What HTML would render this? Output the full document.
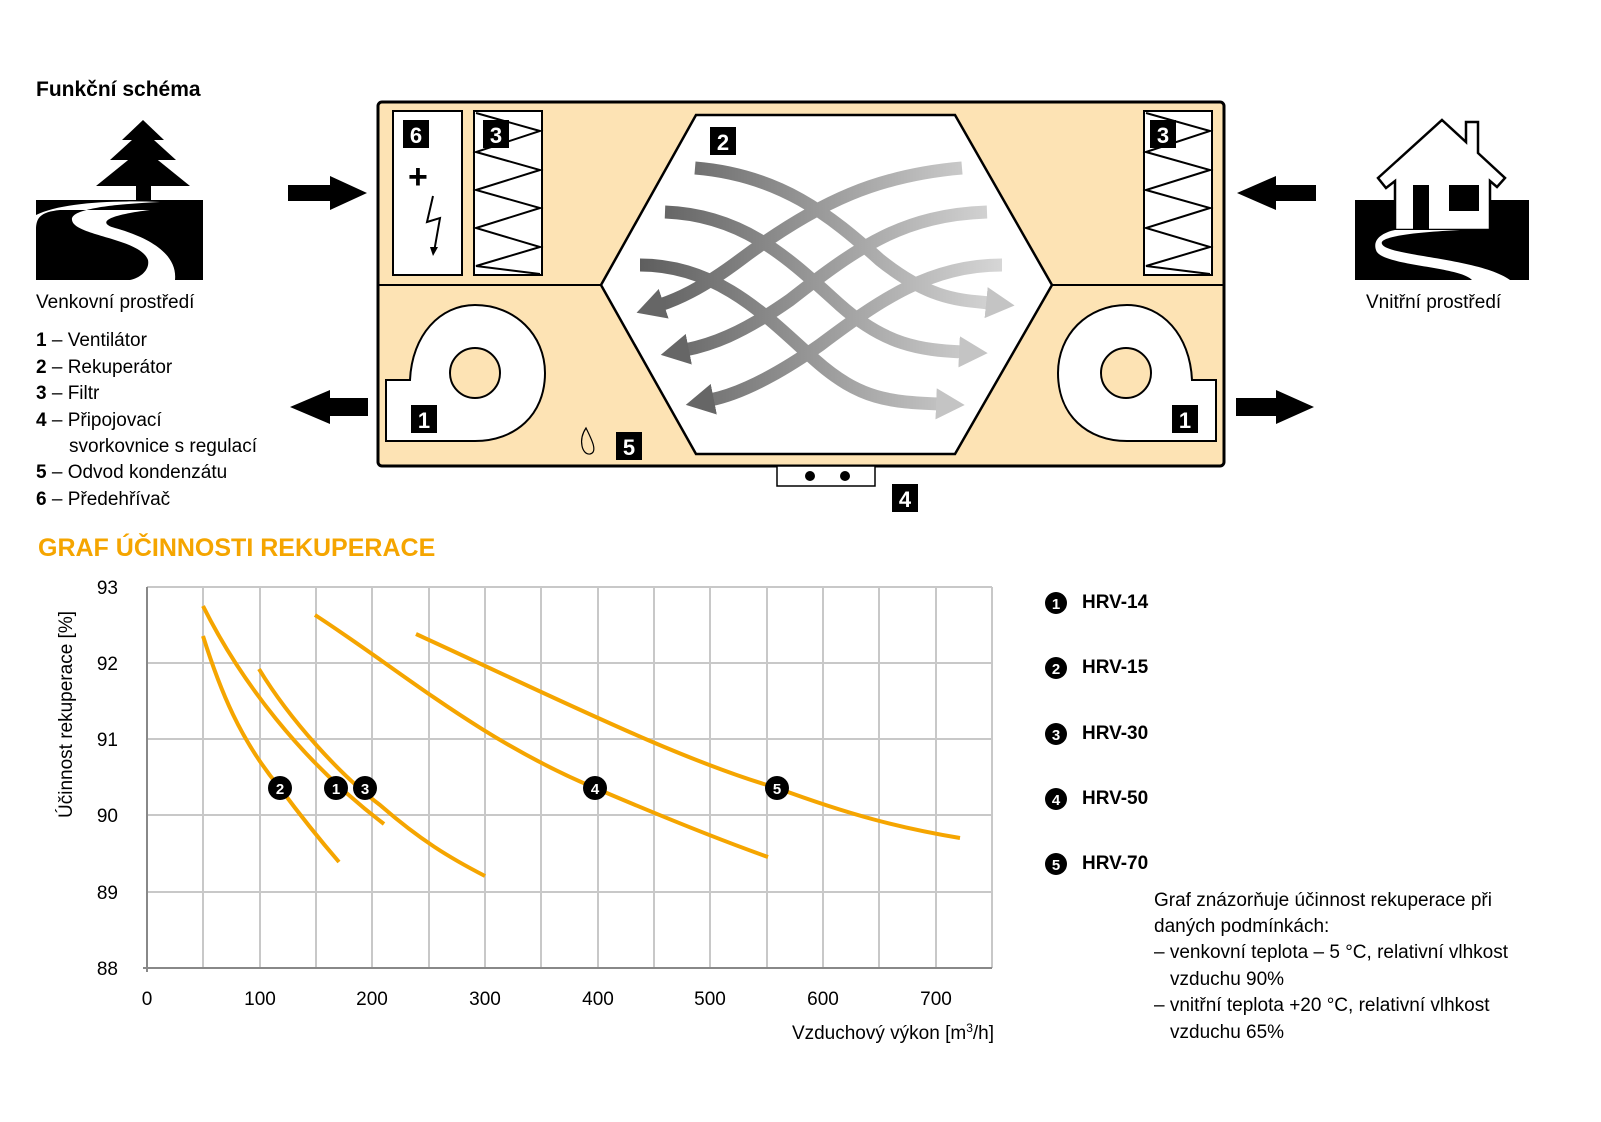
<!DOCTYPE html>
<html><head><meta charset="utf-8"><style>
html,body{margin:0;padding:0;background:#fff;overflow:hidden}
svg text{font-family:"Liberation Sans",sans-serif}
</style></head><body>
<svg width="1601" height="1117" viewBox="0 0 1601 1117" xmlns="http://www.w3.org/2000/svg">
<defs>
<linearGradient id="g" gradientUnits="userSpaceOnUse" x1="640" y1="0" x2="1020" y2="0">
<stop offset="0" stop-color="#5e5e5e"/><stop offset="1" stop-color="#dcdcdc"/></linearGradient>
<marker id="mL" markerWidth="2.4" markerHeight="2.4" refX="0.3" refY="1.2" orient="auto" markerUnits="strokeWidth"><path d="M0,0 L2.2,1.2 L0,2.4 Z" fill="#666"/></marker>
<marker id="mR" markerWidth="2.4" markerHeight="2.4" refX="0.3" refY="1.2" orient="auto" markerUnits="strokeWidth"><path d="M0,0 L2.2,1.2 L0,2.4 Z" fill="#c4c4c4"/></marker>
</defs>
<text x="36" y="96" font-size="21" font-weight="bold">Funkční schéma</text>
<!-- tree icon -->
<polygon points="143,120 164,140 122,140" fill="#000"/>
<polygon points="143,130 176,160 110,160" fill="#000"/>
<polygon points="143,148 190,186 96,186" fill="#000"/>
<rect x="136" y="186" width="15" height="16" fill="#000"/>
<rect x="36" y="200" width="167" height="80" fill="#000"/>
<path d="M36,215 C60,203 110,200 160,202 C120,204 70,208 72,220 C74,236 140,238 148,260 C150,270 140,278 130,280 L175,280 C178,250 140,235 115,228 C100,224 100,216 150,210 L60,210 C40,212 36,218 36,230 Z" fill="#fff"/>
<text x="36" y="308" font-size="19">Venkovní prostředí</text>
<g font-size="19">
<text x="36" y="346"><tspan font-weight="bold">1</tspan> – Ventilátor</text>
<text x="36" y="373"><tspan font-weight="bold">2</tspan> – Rekuperátor</text>
<text x="36" y="399"><tspan font-weight="bold">3</tspan> – Filtr</text>
<text x="36" y="426"><tspan font-weight="bold">4</tspan> – Připojovací</text>
<text x="69" y="452">svorkovnice s regulací</text>
<text x="36" y="478"><tspan font-weight="bold">5</tspan> – Odvod kondenzátu</text>
<text x="36" y="505"><tspan font-weight="bold">6</tspan> – Předehřívač</text>
</g>
<!-- side arrows -->
<polygon points="288,185 330,185 330,176 367,193 330,210 330,201 288,201" fill="#000"/>
<polygon points="368,398 330,398 330,390 290,407 330,424 330,416 368,416" fill="#000"/>
<polygon points="1316,185 1276,185 1276,176 1237,193 1276,210 1276,201 1316,201" fill="#000"/>
<polygon points="1236,398 1276,398 1276,390 1314,407 1276,424 1276,416 1236,416" fill="#000"/>
<!-- house -->
<rect x="1355" y="200" width="174" height="80" fill="#000"/>
<polygon points="1442,120 1466,142 1466,122 1478,122 1478,153 1505,178 1497,187 1490,181 1490,230 1395,230 1395,181 1386,188 1378,178" fill="#fff" stroke="#000" stroke-width="2.5"/>
<rect x="1413" y="185" width="16" height="45" fill="#000"/>
<rect x="1449" y="185" width="30" height="26" fill="#000"/>
<path d="M1395,230 L1460,230 C1420,232 1378,236 1382,244 C1386,256 1480,258 1510,280 L1472,280 C1460,266 1380,266 1376,250 C1372,238 1385,232 1395,230 Z" fill="#fff"/>
<text x="1366" y="308" font-size="19">Vnitřní prostředí</text>
<!-- unit -->
<rect x="378" y="102" width="846" height="364" rx="4" fill="#fde3b4" stroke="#000" stroke-width="3"/>
<line x1="378" y1="285" x2="601" y2="285" stroke="#000" stroke-width="2"/>
<line x1="1052" y1="285" x2="1224" y2="285" stroke="#000" stroke-width="2"/>
<polygon points="601,285 696,115 955,115 1052,285 955,454 696,454" fill="#fff" stroke="#000" stroke-width="2.5"/>
<rect x="393" y="111" width="69" height="164" fill="#fff" stroke="#000" stroke-width="2"/>
<rect x="474" y="111" width="68" height="164" fill="#fff" stroke="#000" stroke-width="2"/>
<rect x="1144" y="111" width="68" height="164" fill="#fff" stroke="#000" stroke-width="2"/>
<polyline points="476,113 540,131 476,152 540,170 476,190 540,208 476,228 540,247 476,266 540,274" fill="none" stroke="#000" stroke-width="2"/>
<polyline points="1146,113 1210,131 1146,152 1210,170 1146,190 1210,208 1146,228 1210,247 1146,266 1210,274" fill="none" stroke="#000" stroke-width="2"/>
<text x="408" y="188" font-size="34" font-weight="bold">+</text>
<polyline points="433,196 427,222 440,218 434,252" fill="none" stroke="#000" stroke-width="2"/>
<polygon points="430,247 438,247 433,256" fill="#000"/>
<!-- fans -->
<path d="M386,441 L386,380 L410,380 C412,335 440,305 475,305 C515,305 545,335 545,373 C545,415 515,441 475,441 Z" fill="#fff" stroke="#000" stroke-width="2"/>
<circle cx="475" cy="373" r="25" fill="#fde3b4" stroke="#000" stroke-width="2"/>
<path d="M1216,441 L1216,380 L1192,380 C1190,335 1162,305 1127,305 C1087,305 1058,335 1058,373 C1058,415 1087,441 1127,441 Z" fill="#fff" stroke="#000" stroke-width="2"/>
<circle cx="1126" cy="373" r="25" fill="#fde3b4" stroke="#000" stroke-width="2"/>
<path d="M586,428 C578,440 582,455 590,454 C598,452 592,440 586,428 Z" fill="none" stroke="#000" stroke-width="1.2"/>
<rect x="777" y="466" width="98" height="20" fill="#fff" stroke="#000" stroke-width="1.5"/>
<circle cx="810" cy="476" r="5" fill="#000"/><circle cx="845" cy="476" r="5" fill="#000"/>
<!-- heat exchanger arrows -->
<g fill="none" stroke="url(#g)" stroke-width="13">
<path d="M962,168 C880,175 820,200 740,260 C700,290 675,300 660,305" marker-end="url(#mL)"/>
<path d="M987,212 C905,215 860,245 790,300 C740,335 710,345 685,350" marker-end="url(#mL)"/>
<path d="M1002,265 C930,265 880,300 820,345 C770,380 735,395 710,400" marker-end="url(#mL)"/>
<path d="M695,168 C780,175 830,215 880,260 C930,300 960,300 990,303" marker-end="url(#mR)"/>
<path d="M665,212 C745,215 790,260 840,305 C885,345 920,350 963,352" marker-end="url(#mR)"/>
<path d="M640,265 C720,265 770,320 815,360 C860,400 890,402 940,404" marker-end="url(#mR)"/>
</g>
<!-- number badges -->
<g font-size="22" font-weight="bold" fill="#fff" text-anchor="middle">
<rect x="403" y="120" width="26" height="28" fill="#000"/><text x="416" y="143">6</text>
<rect x="483" y="120" width="26" height="28" fill="#000"/><text x="496" y="143">3</text>
<rect x="710" y="127" width="26" height="28" fill="#000"/><text x="723" y="150">2</text>
<rect x="1150" y="120" width="26" height="28" fill="#000"/><text x="1163" y="143">3</text>
<rect x="411" y="405" width="26" height="28" fill="#000"/><text x="424" y="428">1</text>
<rect x="1172" y="405" width="26" height="28" fill="#000"/><text x="1185" y="428">1</text>
<rect x="616" y="432" width="26" height="28" fill="#000"/><text x="629" y="455">5</text>
<rect x="892" y="484" width="26" height="28" fill="#000"/><text x="905" y="507">4</text>
</g>
<!-- chart -->
<text x="38" y="556" font-size="25" font-weight="bold" fill="#f5a500">GRAF ÚČINNOSTI REKUPERACE</text>
<g stroke="#c8c8c8" stroke-width="2">
<line x1="203" y1="587" x2="203" y2="968"/><line x1="260" y1="587" x2="260" y2="968"/><line x1="316" y1="587" x2="316" y2="968"/><line x1="372" y1="587" x2="372" y2="968"/><line x1="429" y1="587" x2="429" y2="968"/><line x1="485" y1="587" x2="485" y2="968"/><line x1="541" y1="587" x2="541" y2="968"/><line x1="598" y1="587" x2="598" y2="968"/><line x1="654" y1="587" x2="654" y2="968"/><line x1="710" y1="587" x2="710" y2="968"/><line x1="767" y1="587" x2="767" y2="968"/><line x1="823" y1="587" x2="823" y2="968"/><line x1="879" y1="587" x2="879" y2="968"/><line x1="936" y1="587" x2="936" y2="968"/><line x1="992" y1="587" x2="992" y2="968"/>
<line x1="147" y1="587" x2="992" y2="587"/><line x1="147" y1="663" x2="992" y2="663"/><line x1="147" y1="739" x2="992" y2="739"/><line x1="147" y1="815" x2="992" y2="815"/><line x1="147" y1="892" x2="992" y2="892"/>
</g>
<line x1="147" y1="587" x2="147" y2="972" stroke="#888" stroke-width="2"/>
<line x1="143" y1="968" x2="992" y2="968" stroke="#888" stroke-width="2"/>
<g font-size="19" text-anchor="end">
<text x="118" y="594">93</text><text x="118" y="670">92</text><text x="118" y="746">91</text><text x="118" y="822">90</text><text x="118" y="899">89</text><text x="118" y="975">88</text>
</g>
<g font-size="19" text-anchor="middle">
<text x="147" y="1005">0</text><text x="260" y="1005">100</text><text x="372" y="1005">200</text><text x="485" y="1005">300</text><text x="598" y="1005">400</text><text x="710" y="1005">500</text><text x="823" y="1005">600</text><text x="936" y="1005">700</text>
</g>
<text x="994" y="1039" font-size="19" text-anchor="end">Vzduchový výkon [m<tspan font-size="12" dy="-7">3</tspan><tspan dy="7">/h]</tspan></text>
<text transform="translate(72,818) rotate(-90)" font-size="19">Účinnost rekuperace [%]</text>
<g fill="none" stroke="#f5a500" stroke-width="4">
<path d="M203,606 C240,680 300,760 384,824"/>
<path d="M203,636 C220,690 240,740 280,788 C300,815 320,840 339,862"/>
<path d="M259,669 C290,720 340,775 380,805 C420,840 450,858 485,876"/>
<path d="M315,615 C400,670 480,740 595,788 C670,820 720,840 768,857"/>
<path d="M416,634 C560,700 680,760 777,788 C850,815 900,828 960,838"/>
</g>
<g font-size="15" font-weight="bold" fill="#fff" text-anchor="middle">
<circle cx="280" cy="788" r="12" fill="#000"/><text x="280" y="794">2</text>
<circle cx="336" cy="788" r="12" fill="#000"/><text x="336" y="794">1</text>
<circle cx="365" cy="788" r="12" fill="#000"/><text x="365" y="794">3</text>
<circle cx="595" cy="788" r="12" fill="#000"/><text x="595" y="794">4</text>
<circle cx="777" cy="788" r="12" fill="#000"/><text x="777" y="794">5</text>
<circle cx="1056" cy="603" r="11" fill="#000"/><text x="1056" y="609">1</text>
<circle cx="1056" cy="668" r="11" fill="#000"/><text x="1056" y="674">2</text>
<circle cx="1056" cy="734" r="11" fill="#000"/><text x="1056" y="740">3</text>
<circle cx="1056" cy="799" r="11" fill="#000"/><text x="1056" y="805">4</text>
<circle cx="1056" cy="864" r="11" fill="#000"/><text x="1056" y="870">5</text>
</g>
<g font-size="19" font-weight="bold">
<text x="1082" y="608">HRV-14</text><text x="1082" y="673">HRV-15</text><text x="1082" y="739">HRV-30</text><text x="1082" y="804">HRV-50</text><text x="1082" y="869">HRV-70</text>
</g>
<g font-size="19">
<text x="1154" y="906">Graf znázorňuje účinnost rekuperace při</text>
<text x="1154" y="932">daných podmínkách:</text>
<text x="1154" y="958">– venkovní teplota – 5 °C, relativní vlhkost</text>
<text x="1170" y="985">vzduchu 90%</text>
<text x="1154" y="1011">– vnitřní teplota +20 °C, relativní vlhkost</text>
<text x="1170" y="1038">vzduchu 65%</text>
</g>
</svg>
</body></html>
